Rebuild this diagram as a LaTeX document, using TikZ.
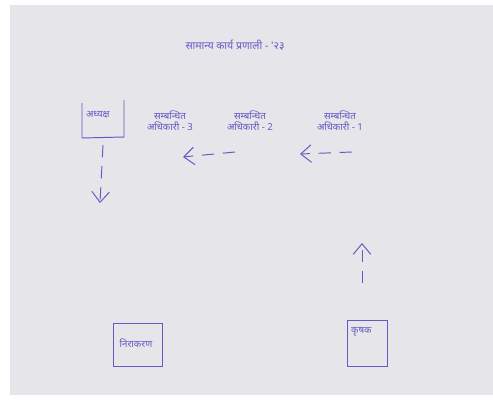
\documentclass[tikz,border=0pt]{standalone}
\usepackage{fontspec}
\newfontfamily\hindi[Script=Devanagari]{Noto Sans}
\usepackage{tikz}
\usetikzlibrary{arrows.meta,positioning,calc}
\definecolor{paper}{RGB}{229,229,234}
\definecolor{ink}{RGB}{100,90,196}

\begin{document}
\begin{tikzpicture}[x=0.02cm,y=-0.02cm,
  inktext/.style={text=ink,font=\hindi\fontsize{5.5}{6.5}\selectfont,align=center,inner sep=1pt},
  flow/.style={draw=ink,line width=0.55pt,dash pattern=on 7pt off 5pt,
    -{Straight Barb[length=6pt,width=10pt]}}
]
  % paper
  \fill[white] (0,0) rectangle (493,403);
  \fill[paper] (10,5) rectangle (493,395);
  \useasboundingbox (0,0) rectangle (493,403);

  \node[inktext,font=\hindi\fontsize{6}{7}\selectfont] (title) at (235,45) {सामान्य कार्य प्रणाली - '२३};

  % boxes
  \draw[ink,line width=0.55pt] (82,103) -- (82,138) -- (124,137) -- (124,100);
  \node[inktext,anchor=west] (adhyaksh) at (84,115) {अध्यक्ष};
  \draw[ink,line width=0.55pt] (113,323) rectangle (162,366);
  \node[inktext] (nirakaran) at (136,343) {निराकरण};
  \draw[ink,line width=0.55pt] (347,320) rectangle (387,366);
  \node[inktext,anchor=west] (krishak) at (349,332) {कृषक};

  % officers
  \node[inktext] (adh3) at (170,121) {सम्बन्धित\\अधिकारी - 3};
  \node[inktext] (adh2) at (250,121) {सम्बन्धित\\अधिकारी - 2};
  \node[inktext] (adh1) at (340,121) {सम्बन्धित\\अधिकारी - 1};

  % arrows
  \coordinate (a1) at (352,152);
  \coordinate (b1) at (300,154);
  \coordinate (a2) at (235,152);
  \coordinate (b2) at (183,157);
  \coordinate (a3) at (103,145);
  \coordinate (b3) at (100,203);
  \coordinate (a4) at (362,283);
  \coordinate (b4) at (362,243);
  \draw[flow] (a1) -- (b1);
  \draw[flow] (a2) -- (b2);
  \draw[flow] (a3) -- (b3);
  \draw[flow] (a4) -- (b4);
\end{tikzpicture}
\end{document}
